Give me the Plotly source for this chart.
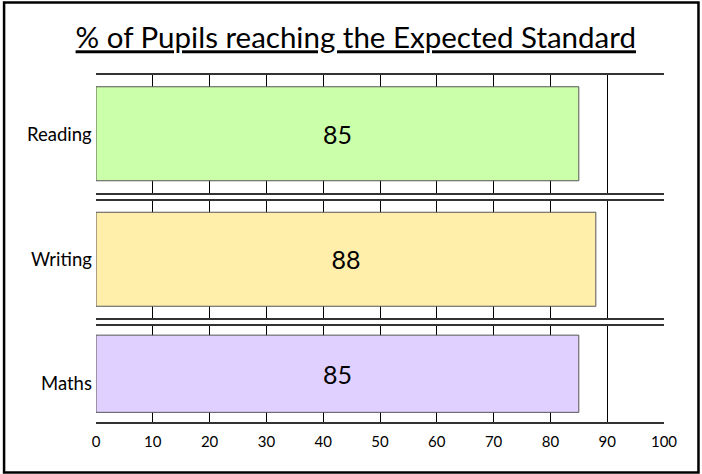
import plotly.graph_objects as go

# ---- data ----
categories = ["Reading", "Writing", "Maths"]
values = [85, 88, 85]
bar_colors = ["#CCFFAA", "#FFEFAA", "#E0D0FF"]
x_tick_values = list(range(0, 101, 10))
title_text = "% of Pupils reaching the Expected Standard"

# ---- geometry (pixels) ----
W, H = 702, 474
PL, PR, PT, PB = 95.5, 664.0, 75.0, 422.0
panel_px = [(75, 192.5), (200.5, 318), (325.5, 422)]
label_shift = [0, 0, -9]
FONT = "Lato, Calibri, sans-serif"

def ypaper(py):
    return (PB - py) / (PB - PT)

def xpaper(px):
    return (px - PL) / (PR - PL)

fig = go.Figure()
annotations = []
for i, (cat, val, col) in enumerate(zip(categories, values, bar_colors)):
    n = "" if i == 0 else str(i + 1)
    fig.add_trace(go.Bar(
        x=[val], y=[cat], orientation="h", width=0.8,
        marker=dict(color=col, line=dict(color="#555555", width=1)),
        text=[str(val)], textposition="inside", insidetextanchor="middle",
        textangle=0, textfont=dict(size=25, color="black", family=FONT),
        xaxis="x" + n, yaxis="y" + n, showlegend=False, hoverinfo="skip",
    ))
    top, bot = panel_px[i]
    last = i == len(categories) - 1
    fig.layout["xaxis" + n] = dict(
        domain=[0, 1], range=[0, 100], anchor="y" + n,
        tickvals=x_tick_values, showgrid=True, gridcolor="#000000", gridwidth=1,
        showline=True, mirror=True, linecolor="#333333", linewidth=1.5,
        showticklabels=last, ticks="", zeroline=False,
        tickfont=dict(size=15, color="black", family=FONT),
        ticklabelstandoff=5,
        **({} if i == 0 else {"matches": "x"}),
    )
    fig.layout["yaxis" + n] = dict(
        domain=[ypaper(bot), ypaper(top)], anchor="x" + n,
        type="category", range=[-0.5, 0.5], showticklabels=False,
        showgrid=False, zeroline=False, fixedrange=True,
    )
    annotations.append(dict(
        text=cat, xref="paper", x=0, xanchor="right", xshift=-2,
        yref="y" + n, y=cat, yanchor="middle", yshift=label_shift[i],
        showarrow=False, font=dict(size=18.5, color="black", family=FONT),
    ))

fig.update_layout(
    width=W, height=H,
    margin=dict(l=PL, r=W - PR, t=PT, b=H - PB, pad=0),
    paper_bgcolor="white", plot_bgcolor="white",
    bargap=0.2,
    title=dict(
        text="<u>" + title_text + "</u>", xref="paper", x=xpaper(355.5), xanchor="center",
        yref="container", y=1 - 38 / H, yanchor="middle",
        font=dict(size=29.5, color="black", family=FONT),
    ),
    annotations=annotations,
    shapes=[dict(
        type="rect", xref="paper", yref="paper",
        x0=xpaper(3.5), x1=xpaper(698.5), y0=ypaper(472.5), y1=ypaper(2.5),
        line=dict(color="black", width=2.5), fillcolor="rgba(0,0,0,0)", layer="above",
    )],
)

fig.write_html("out.html", config={"displayModeBar": False},
               post_script="document.body.style.margin='0';")
